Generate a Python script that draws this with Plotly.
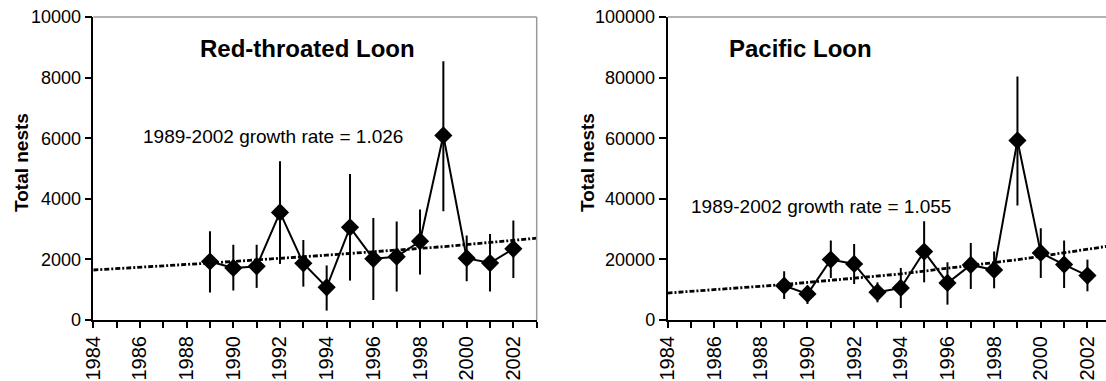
import plotly.graph_objects as go

# ---------------- data ----------------
years = [1989, 1990, 1991, 1992, 1993, 1994, 1995, 1996, 1997, 1998, 1999, 2000, 2001, 2002]

rtlo_nests = [1930, 1720, 1770, 3550, 1870, 1080, 3060, 2020, 2090, 2600, 6090, 2040, 1880, 2350]
rtlo_upper = [2930, 2480, 2480, 5240, 2640, 1800, 4820, 3370, 3250, 3650, 8540, 2790, 2840, 3280]
rtlo_lower = [910, 970, 1060, 1850, 1100, 310, 1300, 660, 940, 1500, 3590, 1280, 940, 1390]

palo_nests = [11340, 8590, 19930, 18500, 9140, 10570, 22580, 12220, 18170, 16520, 59250, 22140, 18280, 14650]
palo_upper = [16080, 11340, 26210, 25110, 12440, 17180, 32600, 19050, 25440, 22580, 80400, 30290, 26210, 19930]
palo_lower = [6940, 5290, 13880, 11890, 5840, 3960, 12440, 5070, 10240, 10460, 37780, 13880, 10570, 9470]

trend_years = [1984, 1989, 1994, 1999, 2003]
rtlo_trend = [1650, 1880, 2140, 2420, 2700]
palo_trend = [8900, 11700, 15200, 19900, 24500]

rtlo_title = "Red-throated Loon"
palo_title = "Pacific Loon"
rtlo_rate = "1989-2002 growth rate = 1.026"
palo_rate = "1989-2002 growth rate = 1.055"
y_title = "Total nests"

x_tickvals = [1984, 1986, 1988, 1990, 1992, 1994, 1996, 1998, 2000, 2002]
x_ticktext = ["1984", "1986", "1988", "1990", "1992", "1994", "1996", "1998", "2000", "2002"]
x_minor = list(range(1984, 2004))
rtlo_yticks = [0, 2000, 4000, 6000, 8000, 10000]
palo_yticks = [0, 20000, 40000, 60000, 80000, 100000]

# ---------------- figure ----------------
W, H = 1106, 381
FONT = "Liberation Sans, Arial, sans-serif"

fig = go.Figure()

def add_panel(fig, xa, ya, vals, up, lo, trend):
    fig.add_trace(go.Scatter(
        x=trend_years, y=trend, xaxis=xa, yaxis=ya, mode="lines",
        line=dict(color="black", width=2.8, dash="5px,2px,2px,2px"),
        showlegend=False, hoverinfo="skip"))
    fig.add_trace(go.Scatter(
        x=years, y=vals, xaxis=xa, yaxis=ya, mode="lines+markers",
        line=dict(color="black", width=2),
        marker=dict(symbol="diamond", size=14, color="black"),
        error_y=dict(type="data", symmetric=False,
                     array=[u - v for u, v in zip(up, vals)],
                     arrayminus=[v - l for v, l in zip(vals, lo)],
                     color="black", thickness=2, width=0),
        showlegend=False))

add_panel(fig, "x", "y", rtlo_nests, rtlo_upper, rtlo_lower, rtlo_trend)
add_panel(fig, "x2", "y2", palo_nests, palo_upper, palo_lower, palo_trend)

ydom = [61 / H, 364 / H]
xdom1 = [93.3 / W, 536.7 / W]
xdom2 = [667.5 / W, 1.0]

def xaxis_cfg(dom, rng, anchor):
    return dict(domain=dom, range=rng, anchor=anchor, automargin=False,
                tickmode="array", tickvals=x_tickvals, ticktext=x_ticktext,
                tickangle=-90, ticks="outside", ticklen=6, tickwidth=1.5, tickcolor="black",
                minor=dict(tickmode="array", tickvals=x_minor, ticks="outside",
                           ticklen=6, tickwidth=1.5, tickcolor="black"),
                showline=True, linecolor="black", linewidth=2,
                showgrid=False, zeroline=False,
                tickfont=dict(family=FONT, size=20, color="black"))

def yaxis_cfg(rng, tv, anchor):
    return dict(domain=ydom, range=rng, anchor=anchor, automargin=False,
                tickmode="array", tickvals=tv, ticktext=[str(v) for v in tv],
                ticks="outside", ticklen=7, tickwidth=1.5, tickcolor="black",
                showline=True, linecolor="black", linewidth=1.5,
                showgrid=False, zeroline=False,
                tickfont=dict(family=FONT, size=18, color="black"))

fig.update_layout(
    template="none",
    width=W, height=H, margin=dict(l=0, r=0, t=0, b=0, pad=0),
    paper_bgcolor="white", plot_bgcolor="white",
    xaxis=xaxis_cfg(xdom1, [1984, 2003], "y"),
    yaxis=yaxis_cfg([0, 10000], rtlo_yticks, "x"),
    xaxis2=xaxis_cfg(xdom2, [1984, 1984 + (1106 - 667.5) / 23.33], "y2"),
    yaxis2=yaxis_cfg([0, 100000], palo_yticks, "x2"),
)

# gray plot-area border (top and right)
fig.add_shape(type="line", xref="x domain", yref="y domain", x0=0, x1=1, y0=1, y1=1,
              line=dict(color="#999999", width=1.5))
fig.add_shape(type="line", xref="x domain", yref="y domain", x0=1, x1=1, y0=0, y1=1,
              line=dict(color="#999999", width=1.5))
fig.add_shape(type="line", xref="x2 domain", yref="y2 domain", x0=0, x1=1, y0=1, y1=1,
              line=dict(color="#999999", width=1.5))

def ann(text, x, y, size, bold=False, angle=0):
    fig.add_annotation(text=f"<b>{text}</b>" if bold else text,
                       xref="paper", yref="paper", x=x / W, y=1 - y / H,
                       xanchor="center", yanchor="middle", showarrow=False,
                       textangle=angle, font=dict(family=FONT, size=size, color="black"))

ann(rtlo_title, 307, 48, 24, bold=True)
ann(palo_title, 800, 48, 24, bold=True)
ann(rtlo_rate, 273, 137, 19)
ann(palo_rate, 821, 206, 19)
ann(y_title, 21, 163, 19, bold=True, angle=-90)
ann(y_title, 587, 163, 19, bold=True, angle=-90)

fig.write_html("out.html")
